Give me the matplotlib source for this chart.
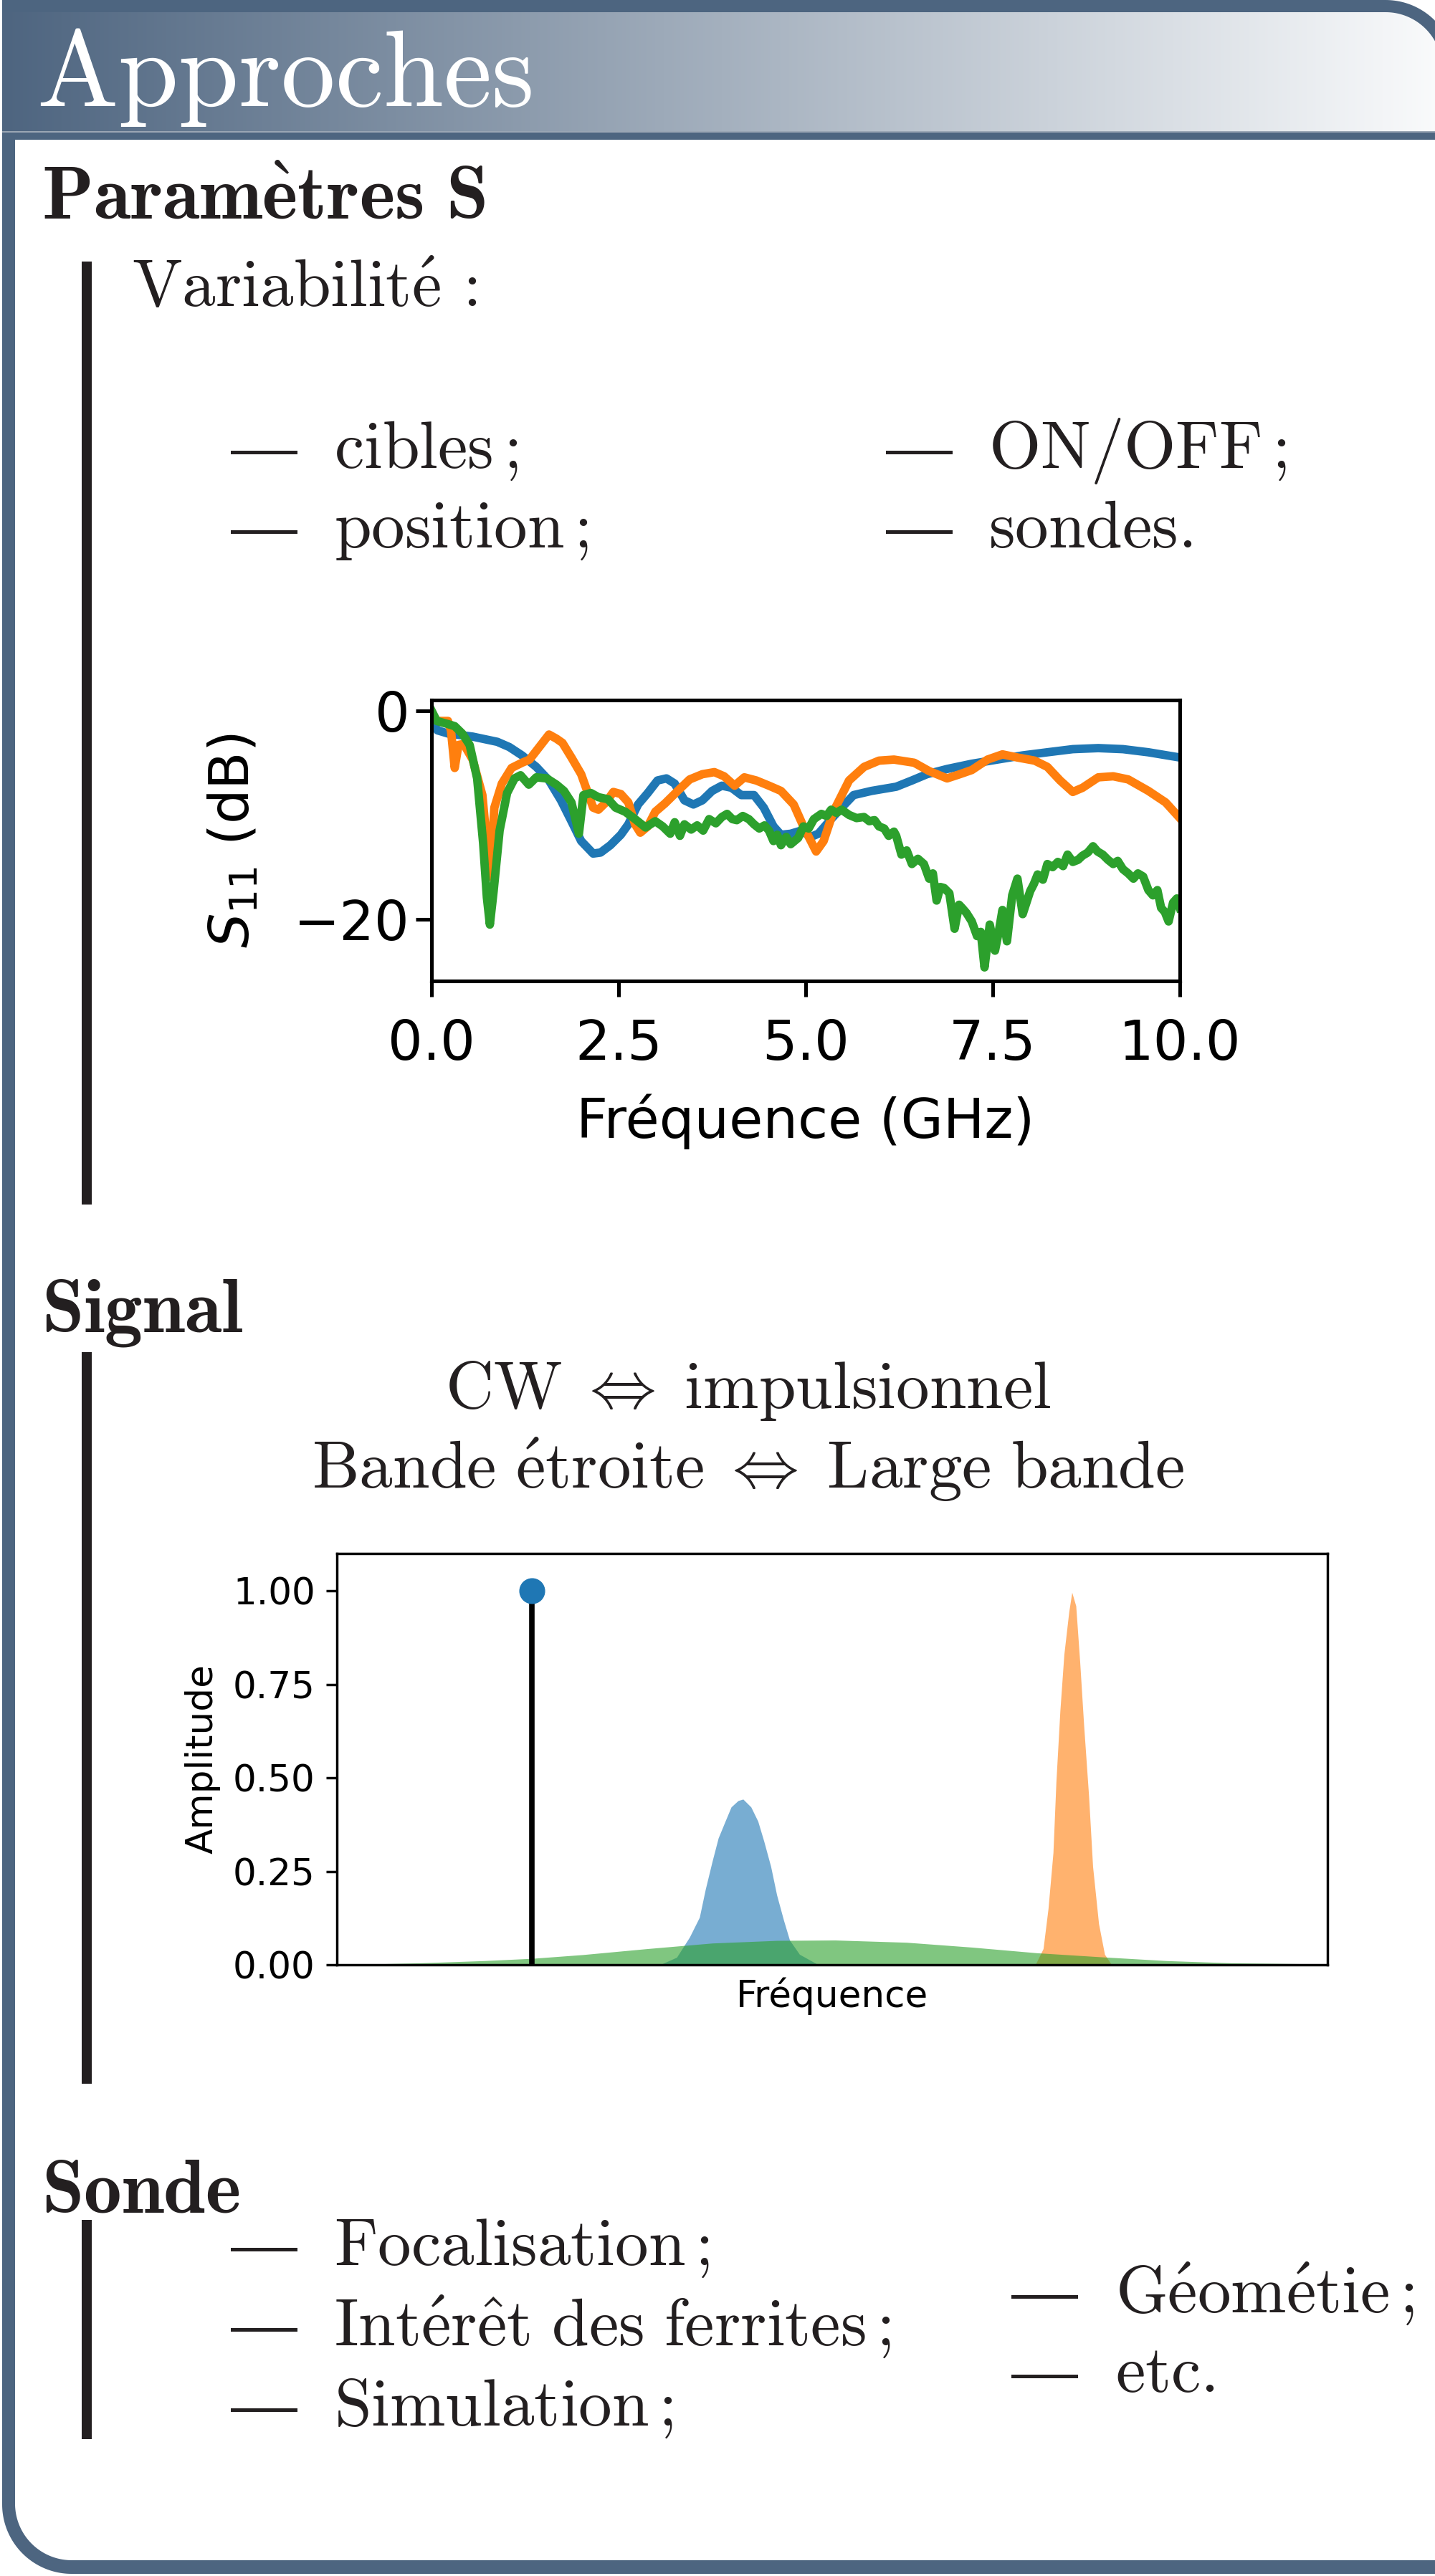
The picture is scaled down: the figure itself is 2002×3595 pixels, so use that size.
import numpy as np
import matplotlib
matplotlib.use("Agg")
import matplotlib.pyplot as plt
from matplotlib.patches import Polygon, Rectangle
from matplotlib.colors import to_rgb

# ------------------------------------------------------------------
# Data : S11 chart
# ------------------------------------------------------------------
blue_freq = [0.0, 0.08, 0.22, 0.55, 0.88, 1.04, 1.21, 1.40, 1.57, 1.73, 1.87, 2.00,
             2.16, 2.26, 2.39, 2.53, 2.63, 2.76, 2.89, 3.02, 3.14, 3.25, 3.38, 3.50,
             3.62, 3.75, 3.88, 4.01, 4.14, 4.31, 4.44, 4.57, 4.67, 4.80, 4.94, 5.07,
             5.17, 5.34, 5.48, 5.64, 5.88, 6.21, 6.42, 6.62, 6.89, 7.22, 7.56, 7.90,
             8.23, 8.57, 8.91, 9.24, 9.58, 10.0]
blue_s11 = [-1.0, -1.9, -2.2, -2.5, -3.0, -3.5, -4.3, -5.4, -6.7, -8.6, -10.6, -12.5,
            -13.7, -13.6, -12.9, -11.9, -10.9, -9.0, -7.9, -6.7, -6.5, -7.0, -8.6, -9.0,
            -8.6, -7.7, -7.2, -7.4, -8.1, -8.1, -9.3, -11.1, -11.9, -11.8, -11.5, -12.1,
            -11.8, -10.4, -9.3, -8.1, -7.7, -7.3, -6.7, -6.1, -5.6, -5.1, -4.7, -4.3,
            -4.0, -3.7, -3.6, -3.7, -4.0, -4.5]

orange_freq = [0.0, 0.10, 0.22, 0.26, 0.31, 0.36, 0.43, 0.55, 0.68, 0.78, 0.84, 0.94,
               1.07, 1.21, 1.31, 1.44, 1.57, 1.67, 1.75, 1.87, 2.00, 2.10, 2.16, 2.23,
               2.33, 2.43, 2.53, 2.63, 2.72, 2.79, 2.89, 2.99, 3.12, 3.29, 3.45, 3.62,
               3.78, 3.91, 4.05, 4.18, 4.34, 4.51, 4.67, 4.84, 4.97, 5.14, 5.24, 5.37,
               5.58, 5.78, 5.98, 6.18, 6.45, 6.65, 6.89, 7.06, 7.22, 7.43, 7.63, 7.83,
               8.06, 8.23, 8.40, 8.57, 8.70, 8.91, 9.11, 9.31, 9.58, 9.81, 10.0]
orange_s11 = [-0.8, -1.0, -1.0, -1.9, -5.5, -3.3, -3.2, -4.7, -8.1, -15.9, -9.3, -7.0,
              -5.5, -5.0, -4.7, -3.5, -2.3, -2.7, -3.1, -4.5, -6.1, -8.1, -9.3, -9.5,
              -8.8, -7.8, -8.0, -8.8, -10.9, -11.7, -11.1, -9.7, -8.9, -7.7, -6.6, -6.1,
              -5.9, -6.3, -7.2, -6.4, -6.7, -7.2, -7.7, -9.0, -11.1, -13.5, -12.5, -9.7,
              -6.7, -5.4, -4.8, -4.7, -5.0, -5.8, -6.5, -6.1, -5.7, -4.7, -4.2, -4.5,
              -4.8, -5.4, -6.7, -7.8, -7.4, -6.4, -6.3, -6.6, -7.7, -8.8, -10.3]

green_freq = [0.00, 0.07, 0.22, 0.31, 0.41, 0.51, 0.61, 0.69, 0.74, 0.78, 0.83, 0.91,
              1.01, 1.11, 1.19, 1.30, 1.40, 1.54, 1.67, 1.77, 1.87, 1.97, 2.03, 2.13,
              2.23, 2.36, 2.46, 2.59, 2.72, 2.86, 2.99, 3.09, 3.19, 3.25, 3.32, 3.38,
              3.47, 3.55, 3.63, 3.71, 3.80, 3.88, 3.95, 4.02, 4.08, 4.16, 4.24, 4.31,
              4.38, 4.45, 4.51, 4.57, 4.62, 4.67, 4.74, 4.80, 4.90, 4.97, 5.04, 5.11,
              5.21, 5.28, 5.34, 5.41, 5.48, 5.58, 5.68, 5.78, 5.85, 5.92, 5.98, 6.05,
              6.11, 6.18, 6.21, 6.28, 6.35, 6.42, 6.50, 6.58, 6.65, 6.70, 6.75, 6.80,
              6.85, 6.92, 6.99, 7.05, 7.09, 7.15, 7.22, 7.29, 7.34, 7.39, 7.46, 7.53,
              7.58, 7.63, 7.69, 7.76, 7.83, 7.90, 8.00, 8.05, 8.10, 8.17, 8.23, 8.30,
              8.37, 8.44, 8.50, 8.57, 8.64, 8.70, 8.77, 8.84, 8.90, 8.97, 9.04, 9.11,
              9.17, 9.24, 9.31, 9.38, 9.44, 9.51, 9.58, 9.64, 9.70, 9.75, 9.80, 9.85,
              9.91, 9.96, 10.0]
green_s11 = [0.0, -1.0, -1.3, -1.5, -2.2, -3.3, -6.5, -12.7, -17.9, -20.5, -17.3, -11.5,
             -7.9, -6.5, -6.2, -7.1, -6.4, -6.5, -7.1, -7.7, -8.8, -11.8, -8.1, -7.9,
             -8.3, -8.5, -9.3, -9.7, -10.4, -11.2, -10.6, -11.1, -11.8, -10.7, -12.0, -10.9,
             -11.4, -11.0, -11.5, -10.4, -10.8, -10.2, -9.9, -10.4, -10.5, -10.1, -10.4, -10.9,
             -11.3, -11.0, -11.5, -12.5, -11.9, -12.9, -12.1, -12.8, -12.2, -11.1, -11.3, -10.4,
             -9.9, -10.1, -9.5, -9.8, -9.5, -10.0, -10.3, -10.2, -10.6, -10.5, -11.1, -11.3,
             -12.0, -11.6, -12.0, -13.8, -13.4, -14.7, -14.2, -14.7, -16.1, -15.6, -18.2, -16.9,
             -17.0, -17.5, -20.9, -18.6, -18.9, -19.4, -20.2, -21.6, -21.2, -24.6, -20.5, -23.0,
             -21.2, -19.1, -22.1, -17.7, -16.1, -19.5, -17.3, -16.6, -15.7, -16.2, -14.7, -15.0,
             -14.5, -14.9, -13.8, -14.5, -14.3, -13.9, -13.6, -13.0, -13.5, -13.8, -14.3, -14.7,
             -14.4, -15.2, -15.6, -16.1, -15.6, -15.9, -17.2, -17.7, -17.2, -18.9, -19.3, -20.2,
             -18.4, -18.0, -18.9]

s11_xticks = [0.0, 2.5, 5.0, 7.5, 10.0]
s11_yticks = [-20, 0]

# ------------------------------------------------------------------
# Data : spectrum chart
# ------------------------------------------------------------------
cw_freq = [1.97]
cw_amp = [1.0]

narrow_freq = [3.26, 3.43, 3.56, 3.66, 3.72, 3.79, 3.85, 3.92, 3.98, 4.05, 4.10,
               4.18, 4.25, 4.31, 4.38, 4.44, 4.51, 4.57, 4.67, 4.84, 4.93]
narrow_amp = [0.0, 0.02, 0.074, 0.127, 0.202, 0.278, 0.339, 0.384, 0.422, 0.439, 0.443,
              0.422, 0.384, 0.331, 0.263, 0.187, 0.119, 0.066, 0.028, 0.003, 0.0]

sharp_freq = [7.05, 7.13, 7.18, 7.23, 7.26, 7.30, 7.34, 7.39, 7.42, 7.46, 7.50,
              7.54, 7.59, 7.63, 7.69, 7.75, 7.82]
sharp_amp = [0.0, 0.043, 0.15, 0.30, 0.49, 0.68, 0.83, 0.945, 0.996, 0.96, 0.81,
             0.64, 0.45, 0.263, 0.11, 0.028, 0.0]

wide_freq = [0.0, 0.84, 1.49, 1.97, 2.48, 3.13, 3.79, 4.44, 5.03, 5.75, 6.41,
             7.06, 7.72, 8.37, 9.03, 10.0]
wide_amp = [0.0, 0.005, 0.011, 0.017, 0.027, 0.043, 0.058, 0.065, 0.066, 0.060, 0.047,
            0.032, 0.021, 0.011, 0.005, 0.002]

amp_yticks = [0.0, 0.25, 0.5, 0.75, 1.0]

# ------------------------------------------------------------------
# Texts
# ------------------------------------------------------------------
title_text = r"$\mathrm{Approches}$"
heading_params = r"$\mathbf{Param\`etres\ S}$"
heading_signal = r"$\mathbf{Signal}$"
heading_sonde = r"$\mathbf{Sonde}$"
variab_text = r"$\mathrm{Variabilit\'e\,:}$"
items_left_1 = [r"$\mathrm{cibles\,;}$", r"$\mathrm{position\,;}$"]
items_right_1 = [r"$\mathrm{ON/OFF\,;}$", r"$\mathrm{sondes.}$"]
signal_lines = [r"$\mathrm{CW}\;\Leftrightarrow\;\mathrm{impulsionnel}$",
                r"$\mathrm{Bande\ \'etroite}\;\Leftrightarrow\;\mathrm{Large\ bande}$"]
items_left_3 = [r"$\mathrm{Focalisation\,;}$",
                r"$\mathrm{Int\'er\^et\ des\ ferrites\,;}$",
                r"$\mathrm{Simulation\,;}$"]
items_right_3 = [r"$\mathrm{G\'eom\'etie\,;}$", r"$\mathrm{etc.}$"]

# ------------------------------------------------------------------
W, H = 2002, 3595
DPI = 100
fig = plt.figure(figsize=(W / DPI, H / DPI), dpi=DPI)
fig.patch.set_facecolor("white")

bg = fig.add_axes([0, 0, 1, 1])
bg.set_xlim(0, W)
bg.set_ylim(H, 0)
bg.axis("off")

FRAME = "#4d6580"
INK = "#231f20"


def rounded_poly(x0, y0, x1, y1, r_tr=0.0, r_bl=0.0, n=48):
    pts = [(x0, y0)]
    if r_tr > 0:
        cx, cy = x1 - r_tr, y0 + r_tr
        t = np.linspace(-np.pi / 2, 0, n)
        pts += list(zip(cx + r_tr * np.cos(t), cy + r_tr * np.sin(t)))
    else:
        pts.append((x1, y0))
    pts.append((x1, y1))
    if r_bl > 0:
        cx, cy = x0 + r_bl, y1 - r_bl
        t = np.linspace(np.pi / 2, np.pi, n)
        pts += list(zip(cx + r_bl * np.cos(t), cy + r_bl * np.sin(t)))
    else:
        pts.append((x0, y1))
    return np.array(pts)


# outer frame
outer = Polygon(rounded_poly(3, 0, 2030, 3592, r_tr=97, r_bl=97), closed=True,
                facecolor=FRAME, edgecolor="none", zorder=0)
bg.add_patch(outer)

# title gradient
title_clip = Polygon(rounded_poly(3, 17, 2012, 185, r_tr=79, r_bl=0), closed=True,
                     facecolor="none", edgecolor="none", zorder=1)
bg.add_patch(title_clip)
c0 = np.array(to_rgb("#4e6580"))
c1 = np.array(to_rgb("#fafbfc"))
tt = np.linspace(0, 1, 512)[None, :, None]
grad = c0[None, None, :] * (1 - tt) + c1[None, None, :] * tt
im = bg.imshow(grad, extent=(3, 2012, 185, 17), aspect="auto",
               interpolation="bilinear", zorder=1)
im.set_clip_path(title_clip)
bg.add_patch(Rectangle((3, 183), 2009, 2, facecolor="#9aa6b4", edgecolor="none", zorder=1.5))

# white body
body = Polygon(rounded_poly(21, 195, 2012, 3573, r_tr=0, r_bl=79), closed=True,
               facecolor="white", edgecolor="none", zorder=1)
bg.add_patch(body)

# title
bg.text(51, 148, title_text, color="white", fontsize=109, ha="left", va="baseline",
        math_fontfamily="cm", zorder=3)

BODY_FS = 67
HEAD_FS = 76

# vertical bars
for (ya, yb) in [(365, 1681), (1887, 2908), (3098, 3404)]:
    bg.add_patch(Rectangle((114, ya), 14, yb - ya, facecolor=INK, edgecolor="none", zorder=2))


def ttext(x, y, s, fs=BODY_FS, ha="left"):
    bg.text(x, y, s, color=INK, fontsize=fs, ha=ha, va="baseline",
            math_fontfamily="cm", zorder=3)


def dash(x, y):
    bg.text(x, y, "\u2014", color=INK, fontsize=BODY_FS, ha="left", va="baseline",
            family="STIXGeneral", zorder=3)


ttext(58, 306, heading_params, fs=HEAD_FS)
ttext(184, 428, variab_text)
for s, yb in zip(items_left_1, [653, 764]):
    dash(322, yb)
    ttext(466, yb, s)
for s, yb in zip(items_right_1, [653, 764]):
    dash(1236, yb)
    ttext(1379, yb, s)

ttext(58, 1858, heading_signal, fs=HEAD_FS)
for s, yb in zip(signal_lines, [1965, 2077]):
    ttext(1044, yb, s, ha="center")

ttext(58, 3087, heading_sonde, fs=HEAD_FS)
for s, yb in zip(items_left_3, [3161, 3273, 3385]):
    dash(322, yb)
    ttext(466, yb, s)
for s, yb in zip(items_right_3, [3227, 3338]):
    dash(1411, yb)
    ttext(1556, yb, s)

# ------------------------------------------------------------------
# Chart 1 : S11
# ------------------------------------------------------------------
k1 = 4.6
ax1 = fig.add_axes([602 / W, 1 - 1369 / H, 1044 / W, 392 / H])
ax1.plot(blue_freq, blue_s11, color="C0", lw=8.5)
ax1.plot(orange_freq, orange_s11, color="C1", lw=8.5)
ax1.plot(green_freq, green_s11, color="C2", lw=8.5)
ax1.set_xlim(0, 10)
ax1.set_ylim(-25.9, 1.0)
ax1.set_xticks(s11_xticks)
ax1.set_yticks(s11_yticks)
for sp in ax1.spines.values():
    sp.set_linewidth(0.8 * k1)
ax1.tick_params(length=3.5 * k1, width=0.8 * k1, labelsize=12 * k1)
ax1.tick_params(axis="x", pad=21)
ax1.tick_params(axis="y", pad=6)
ax1.set_xlabel("Fréquence (GHz)", fontsize=12 * k1, labelpad=23)
ax1.set_ylabel(r"$S_{11}$ (dB)", fontsize=12 * k1, labelpad=33)

# ------------------------------------------------------------------
# Chart 2 : spectra
# ------------------------------------------------------------------
k2 = 3.1
ax2 = fig.add_axes([470 / W, 1 - 2742 / H, 1382 / W, 574 / H])
ax2.fill_between(narrow_freq, narrow_amp, color="C0", alpha=0.6, lw=0)
ax2.fill_between(sharp_freq, sharp_amp, color="C1", alpha=0.6, lw=0)
ax2.fill_between(wide_freq, wide_amp, color="C2", alpha=0.6, lw=0)
ml, sl, bl = ax2.stem(cw_freq, cw_amp, linefmt="k-", markerfmt="C0o")
sl.set_linewidth(5.5)
ml.set_markersize(25)
ax2.set_xlim(0, 10)
ax2.set_ylim(0, 1.1)
ax2.set_xticks([])
ax2.set_yticks(amp_yticks)
for sp in ax2.spines.values():
    sp.set_linewidth(0.8 * k2)
ax2.tick_params(length=3.5 * k2, width=0.8 * k2, pad=3.5 * k2, labelsize=12 * k2)
ax2.set_xlabel("Fréquence", fontsize=12 * k2, labelpad=4 * k2)
ax2.set_ylabel("Amplitude", fontsize=12 * k2, labelpad=4 * k2)

fig.savefig("out.png", dpi=DPI)
